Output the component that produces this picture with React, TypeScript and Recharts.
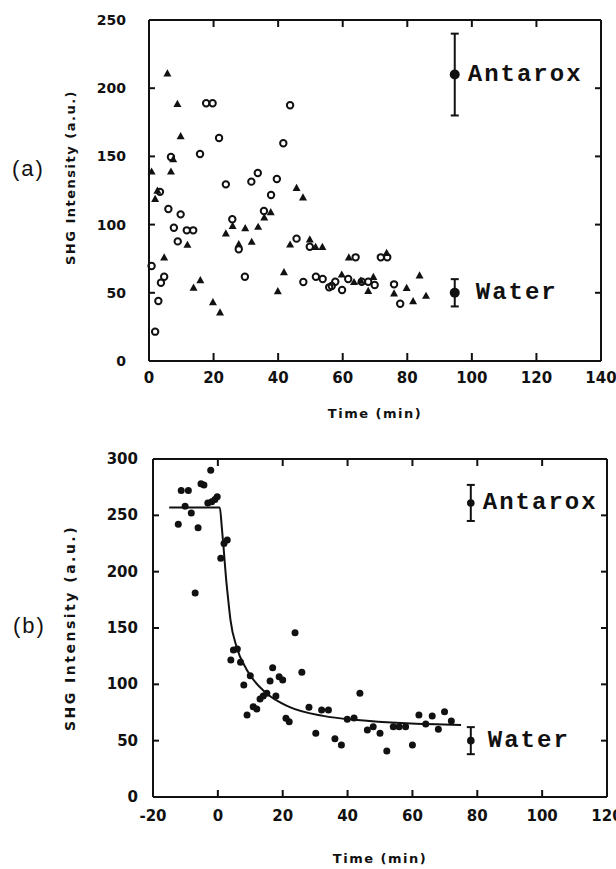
import React from 'react';
import { ComposedChart, Scatter, Line, XAxis, YAxis, ErrorBar, LabelList } from 'recharts';

// panel (a): two runs, open circles and filled triangles
const aCircleX = [0.8, 1.9, 2.9, 3.4, 3.7, 4.7, 6, 6.8, 7.7, 8.9, 9.8, 11.7, 13.7, 15.8, 17.7, 19.7, 21.7, 23.8, 25.8, 27.8, 29.7, 31.7, 33.7, 35.6, 37.8, 39.6, 41.6, 43.7, 45.7, 47.8, 49.8, 51.7, 53.8, 55.8, 56.6, 57.7, 59.8, 61.7, 64, 65.9, 67.9, 69.9, 71.8, 73.8, 75.9, 77.8];
const aCircleY = [69.6, 21.5, 44, 124, 57.4, 61.8, 111.4, 149.6, 97.7, 87.7, 107.5, 95.8, 95.8, 151.8, 189, 189, 163.5, 129.5, 103.9, 81.9, 61.8, 131.5, 137.8, 110, 121.7, 133.4, 159.6, 187.5, 89.7, 57.9, 83.8, 61.8, 60.1, 54, 55, 58.1, 52, 60.1, 76, 58.1, 58.1, 55.7, 76, 76, 56.2, 42];
const aTriX = [0.8, 1.9, 2.6, 4.7, 5.7, 6.8, 7.5, 8.8, 9.8, 11.9, 13.8, 15.9, 19.8, 22, 23.8, 25.9, 27.8, 29.8, 31.8, 33.8, 35.7, 37.7, 39.9, 41.8, 43.7, 45.7, 47.7, 49.8, 51.6, 53.7, 59.7, 61.9, 63.5, 65.6, 67.9, 69.5, 73.6, 75.9, 79.8, 81.8, 83.8, 85.8];
const aTriY = [139, 119, 125, 76, 211, 139, 148, 188.6, 165, 85.3, 53.8, 59.4, 43.3, 35.7, 93.6, 99.2, 85.8, 97.5, 87.5, 98.5, 105.3, 109.2, 51.3, 65.2, 85.5, 127, 120, 89.2, 83.8, 83.8, 63.5, 76, 58, 59, 51.5, 61.8, 79.4, 49.6, 53.7, 44, 62.8, 47.9];
const aRefName = ['Antarox', 'Water'];
const aRefX = [94.7, 94.7];
const aRefY = [210, 50];
const aRefErr = [30, 10];
const aXTicks = [0, 20, 40, 60, 80, 100, 120, 140];
const aYTicks = [0, 50, 100, 150, 200, 250];

// panel (b): single run with fitted decay
const bX = [-12.2, -11.3, -10.1, -9.1, -8.2, -7, -6.1, -5.2, -4.3, -3.1, -2.2, -1.9, -0.9, -0.2, 0.9, 1.9, 2.9, 4, 4.8, 6, 7, 8, 9, 10, 10.9, 12, 13, 14, 15.1, 16.1, 16.9, 17.9, 18.9, 20, 21, 22, 23.8, 25.9, 28.1, 30.2, 32, 34.1, 36.1, 38.1, 39.9, 42, 43.8, 46.1, 47.9, 50, 52.1, 54.1, 55.9, 57.9, 60, 62, 64.1, 66.1, 68, 69.9, 72];
const bY = [242, 272, 258, 272, 252, 181, 239, 278, 277, 261, 290, 262, 264, 266.5, 212, 225, 228, 121.6, 130.5, 131.4, 119.5, 99.4, 72.8, 107.7, 80.2, 78.1, 87, 89.6, 92, 103, 114.8, 89.6, 106.8, 103.8, 69.8, 66.8, 145.8, 110.7, 79.6, 56.5, 77.2, 77.2, 51.8, 46.2, 69, 70.1, 92, 59.5, 62.4, 56.5, 40.8, 62.4, 62.4, 62.4, 46.2, 72.8, 64.8, 71.9, 60.1, 75.7, 67.5];
const bFitX = [-15, 0.6, 1.2, 1.8, 2.5, 3.2, 3.9, 5.8, 8.9, 15, 22, 32.5, 43, 58, 75];
const bFitY = [257, 257, 240, 220, 195, 175, 157, 133, 113, 92, 80, 72, 68.3, 65.4, 64];
const bRefName = ['Antarox', 'Water'];
const bRefX = [78, 78];
const bRefY = [261, 50];
const bRefErr = [16, 12];
const bXTicks = [-20, 0, 20, 40, 60, 80, 100, 120];
const bYTicks = [0, 50, 100, 150, 200, 250, 300];

const zip = (xs: number[], ys: number[]) => xs.map((x, i) => ({ x, y: ys[i] }));
const refs = (names: string[], xs: number[], ys: number[], errs: number[]) =>
  names.map((name, i) => ({ name, x: xs[i], y: ys[i], err: errs[i] }));

const aCircles = zip(aCircleX, aCircleY);
const aTris = zip(aTriX, aTriY);
const aRefs = refs(aRefName, aRefX, aRefY, aRefErr);
const bPoints = zip(bX, bY);
const bFit = zip(bFitX, bFitY);
const bRefs = refs(bRefName, bRefX, bRefY, bRefErr);

const INK = '#111';
const axisLine = { stroke: INK, strokeWidth: 2 };

// ticks point into the plot; the label (if any) sits outside
type Side = 'bottom' | 'left' | 'top' | 'right';
const inTick = (side: Side, len: number, gap = 0, size = 0) => (p: any) => {
  const { x, y, payload } = p;
  const font = { fontSize: size, fontWeight: 700, fontFamily: 'DejaVu Sans', fill: INK };
  let line;
  let label = null;
  if (side === 'bottom') {
    const ay = y - gap;
    line = <line x1={x} x2={x} y1={ay} y2={ay - len} stroke={INK} strokeWidth={2} />;
    if (size) label = <text x={x} y={y + size * 0.73} textAnchor="middle" {...font}>{payload.value}</text>;
  } else if (side === 'left') {
    const ax = x + gap;
    line = <line x1={ax} x2={ax + len} y1={y} y2={y} stroke={INK} strokeWidth={2} />;
    if (size) label = <text x={x} y={y} textAnchor="end" dominantBaseline="central" {...font}>{payload.value}</text>;
  } else if (side === 'top') {
    line = <line x1={x} x2={x} y1={y} y2={y + len} stroke={INK} strokeWidth={2} />;
  } else {
    line = <line x1={x} x2={x - len} y1={y} y2={y} stroke={INK} strokeWidth={2} />;
  }
  return <g>{line}{label}</g>;
};

const OpenCircle = (p: any) => <circle cx={p.cx} cy={p.cy} r={3.2} fill="none" stroke={INK} strokeWidth={2} />;
const Triangle = (p: any) => {
  const s = 4;
  return <polygon points={`${p.cx},${p.cy - s} ${p.cx + s},${p.cy + s * 0.8} ${p.cx - s},${p.cy + s * 0.8}`} fill={INK} />;
};
const dot = (r: number) => (p: any) => <circle cx={p.cx} cy={p.cy} r={r} fill={INK} />;
const noMark = () => <g />;

// label text right of a reference point
const refLabel = (gap: number) => (p: any) => {
  const cx = p.x + p.width / 2;
  const cy = p.y + p.height / 2;
  return (
    <text x={cx + gap} y={cy} dominantBaseline="central" fontFamily="Liberation Mono" fontWeight={700}
      fontSize={24} letterSpacing={2} fill={INK}>
      {p.value}
    </text>
  );
};

const yTitle = (x: number, shift: number, size: number, spacing: number) => (p: any) => {
  const vb = p.viewBox;
  const y = vb.y + vb.height / 2 + shift;
  return (
    <text x={x} y={y} transform={`rotate(-90 ${x} ${y})`} textAnchor="middle" dominantBaseline="central"
      fontFamily="DejaVu Sans" fontWeight={700} fontSize={size} letterSpacing={spacing} fill={INK}>
      SHG Intensity (a.u.)
    </text>
  );
};

const xTitle = (dy: number) => (p: any) => {
  const vb = p.viewBox;
  return (
    <text x={vb.x + vb.width / 2} y={vb.y + dy} textAnchor="middle" dominantBaseline="central"
      fontFamily="DejaVu Sans" fontWeight={700} fontSize={13} letterSpacing={1.5} fill={INK}>
      Time (min)
    </text>
  );
};

const panelTag: React.CSSProperties = {
  position: 'absolute',
  fontFamily: 'Liberation Sans',
  fontSize: 22,
  lineHeight: '22px',
  letterSpacing: 2,
  color: INK,
};

export default function App() {
  return (
    <div style={{ position: 'absolute', left: 0, top: 0, width: 616, height: 869, background: '#fff', overflow: 'hidden' }}>
      <div style={{ ...panelTag, left: 12, top: 158 }}>(a)</div>
      <div style={{ ...panelTag, left: 13, top: 615 }}>(b)</div>

      <div style={{ position: 'absolute', left: 0, top: 0 }}>
        <ComposedChart width={616} height={430} margin={{ top: 19, right: 14, bottom: 0, left: 0 }}>
          <XAxis type="number" dataKey="x" domain={[0, 140]} ticks={aXTicks} interval={0} height={69}
            axisLine={axisLine} tickLine={false} tickSize={0} tickMargin={11} tick={inTick('bottom', 8, 11, 15)}
            label={xTitle(52)} />
          <XAxis xAxisId="top" orientation="top" type="number" dataKey="x" domain={[0, 140]} allowDataOverflow
            ticks={aXTicks} interval={0} height={1} axisLine={axisLine} tickLine={false} tickSize={0} tickMargin={0}
            tick={inTick('top', 7)} />
          <YAxis type="number" dataKey="y" domain={[0, 250]} ticks={aYTicks} interval={0} width={149}
            axisLine={axisLine} tickLine={false} tickSize={0} tickMargin={23} tick={inTick('left', 6, 23, 14)}
            label={yTitle(70, -13, 13, 1.5)} />
          <YAxis yAxisId="right" orientation="right" type="number" dataKey="y" domain={[0, 250]} allowDataOverflow
            ticks={aYTicks} interval={0} width={1} axisLine={axisLine} tickLine={false} tickSize={0} tickMargin={0}
            tick={inTick('right', 6)} />
          {/* hidden copy so the mirrored frame axes get a domain */}
          <Scatter data={aCircles} xAxisId="top" yAxisId="right" shape={noMark} isAnimationActive={false} />
          <Scatter data={aCircles} shape={OpenCircle} isAnimationActive={false} />
          <Scatter data={aTris} shape={Triangle} isAnimationActive={false} />
          {aRefs.map((r, i) => (
            <Scatter key={r.name} data={[r]} shape={dot(5)} isAnimationActive={false}>
              <ErrorBar dataKey="err" direction="y" width={4} stroke={INK} strokeWidth={2} />
              <LabelList dataKey="name" content={refLabel(i === 0 ? 13 : 21)} />
            </Scatter>
          ))}
        </ComposedChart>
      </div>

      <div style={{ position: 'absolute', left: 0, top: 430 }}>
        <ComposedChart width={616} height={439} margin={{ top: 28, right: 8, bottom: 0, left: 0 }}>
          <XAxis type="number" dataKey="x" domain={[-20, 120]} ticks={bXTicks} interval={0} height={72}
            axisLine={axisLine} tickLine={false} tickSize={0} tickMargin={13} tick={inTick('bottom', 7, 13, 15)}
            label={xTitle(61)} />
          <XAxis xAxisId="top" orientation="top" type="number" dataKey="x" domain={[-20, 120]} allowDataOverflow
            ticks={bXTicks} interval={0} height={1} axisLine={axisLine} tickLine={false} tickSize={0} tickMargin={0}
            tick={inTick('top', 7)} />
          <YAxis type="number" dataKey="y" domain={[0, 300]} ticks={bYTicks} interval={0} width={153}
            axisLine={axisLine} tickLine={false} tickSize={0} tickMargin={15} tick={inTick('left', 6, 15, 15)}
            label={yTitle(70, 0, 14, 2.5)} />
          <YAxis yAxisId="right" orientation="right" type="number" dataKey="y" domain={[0, 300]} allowDataOverflow
            ticks={bYTicks} interval={0} width={1} axisLine={axisLine} tickLine={false} tickSize={0} tickMargin={0}
            tick={inTick('right', 6)} />
          <Scatter data={bPoints} xAxisId="top" yAxisId="right" shape={noMark} isAnimationActive={false} />
          <Line data={bFit} dataKey="y" type="monotone" stroke={INK} strokeWidth={2} dot={false} isAnimationActive={false} />
          <Scatter data={bPoints} shape={dot(3.5)} isAnimationActive={false} />
          {bRefs.map((r, i) => (
            <Scatter key={r.name} data={[r]} shape={dot(3.8)} isAnimationActive={false}>
              <ErrorBar dataKey="err" direction="y" width={4} stroke={INK} strokeWidth={2} />
              <LabelList dataKey="name" content={refLabel(i === 0 ? 12 : 17)} />
            </Scatter>
          ))}
        </ComposedChart>
      </div>
    </div>
  );
}
